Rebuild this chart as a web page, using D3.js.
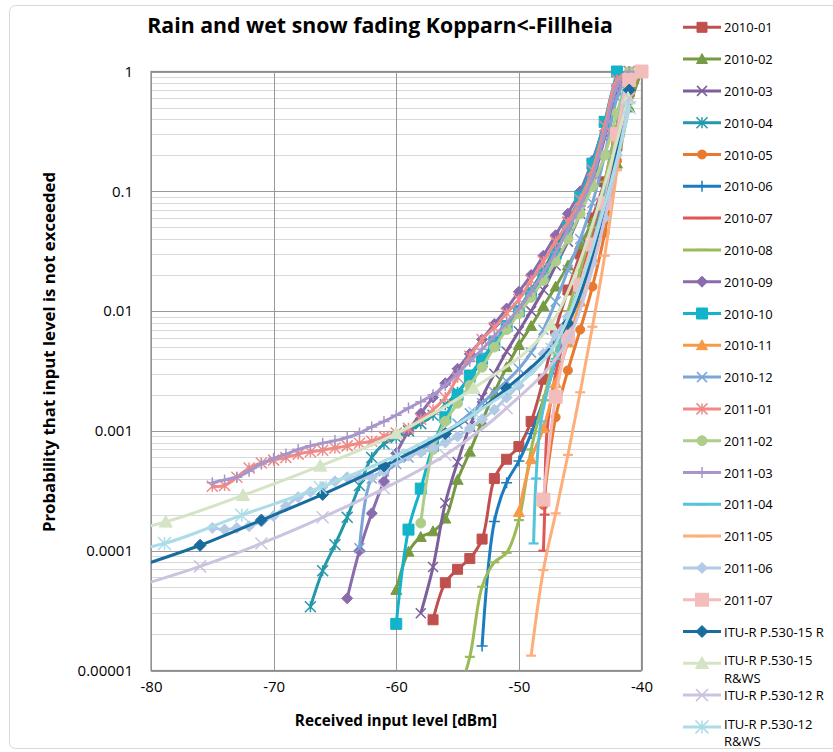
<!DOCTYPE html>
<html>
<head>
<meta charset="utf-8">
<title>Rain and wet snow fading Kopparn&lt;-Fillheia</title>
<script src="https://d3js.org/d3.v7.min.js"></script>
<style>
    body { margin: 0; padding: 0; background-color: #ffffff; }
    text { font-family: "Open Sans", sans-serif; fill: #000; }
    .title { font-weight: bold; font-size: 21.3px; }
    .xtitle { font-weight: bold; font-size: 15.3px; }
    .ytitle { font-weight: bold; font-size: 16.8px; }
    .tick text { font-size: 15px; font-family: "Open Sans", sans-serif; }
    .legend text { font-size: 13px; }
</style>
</head>
<body>
<div id="chart"></div>
<script>

// ---- data: [received level dBm, probability] ----
var s2010_01 = [[-57,2.65e-5],[-56,5.4e-5],[-55,7e-5],[-54,8.6e-5],[-53,1.25e-4],[-52,4.0e-4],[-51,5.8e-4],[-50,7.4e-4],[-49,1.2e-3],[-48,2.7e-3],[-47,7e-3],[-46,1.5e-2],[-45,3e-2],[-44,6e-2],[-43,0.12],[-42,0.24],[-41,0.68],[-40,1]];
var s2010_02 = [[-60,4.7e-5],[-59,9.8e-5],[-58,1.3e-4],[-57,1.45e-4],[-56,1.85e-4],[-55,3.9e-4],[-54,6.7e-4],[-53,1.2e-3],[-52,2.1e-3],[-51,3.4e-3],[-50,5.2e-3],[-49,7.5e-3],[-48,1.1e-2],[-47,1.6e-2],[-46,2.4e-2],[-45,3.6e-2],[-44,5.5e-2],[-43,9e-2],[-42,0.17],[-41,0.5],[-40,1]];
var s2010_03 = [[-58,3e-5],[-57,7.3e-5],[-56,2.5e-4],[-55,5.5e-4],[-54,1.1e-3],[-53,1.9e-3],[-52,3e-3],[-51,4.6e-3],[-50,6.8e-3],[-49,1e-2],[-48,1.5e-2],[-47,2.4e-2],[-46,3.8e-2],[-45,6.5e-2],[-44,0.12],[-43,0.28],[-42,0.7],[-41,1]];
var s2010_04 = [[-67,3.4e-5],[-66,6.8e-5],[-65,1.12e-4],[-64,1.9e-4],[-63,3.5e-4],[-62,6e-4],[-61,7.8e-4],[-60,8.8e-4],[-59,1.0e-3],[-58,1.15e-3],[-57,1.35e-3],[-56,1.65e-3],[-55,2.1e-3],[-54,2.8e-3],[-53,3.8e-3],[-52,5.2e-3],[-51,7.5e-3],[-50,1.05e-2],[-49,1.5e-2],[-48,2.2e-2],[-47,3.4e-2],[-46,5.5e-2],[-45,9e-2],[-44,0.17],[-43,0.38],[-42,0.85],[-41,1]];
var s2010_05 = [[-48,2.4e-4],[-47,1.3e-3],[-46,3.2e-3],[-45,7e-3],[-44,1.6e-2],[-43,4.5e-2],[-42,0.18],[-41,0.65],[-40,1]];
var s2010_06 = [[-53,1.6e-5],[-52,1.75e-4],[-51,3.7e-4],[-50,5.6e-4],[-49,9.5e-4],[-48,1.8e-3],[-47,3.8e-3],[-46,8e-3],[-45,1.7e-2],[-44,4e-2],[-43,0.11],[-42,0.35],[-41,0.85],[-40,1]];
var s2010_07 = [[-48,1e-4],[-47.9,2e-4],[-47.7,1e-3],[-47,3e-3],[-46,7.5e-3],[-45,1.8e-2],[-44,4.5e-2],[-43,0.12],[-42,0.35],[-41,0.85],[-40,1]];
var s2010_08 = [[-55,6e-6],[-54,1.3e-5],[-53,5e-5],[-52,8e-5],[-51,9.6e-5],[-50,1.8e-4],[-49,7e-4],[-48,1.8e-3],[-47,4.5e-3],[-46,1e-2],[-45,2.2e-2],[-44,5e-2],[-43,0.12],[-42,0.35],[-41,0.85],[-40,1]];
var s2010_09 = [[-64,4e-5],[-63,1e-4],[-62,2.05e-4],[-61,3.8e-4],[-60,6.5e-4],[-59,1e-3],[-58,1.4e-3],[-57,1.9e-3],[-56,2.5e-3],[-55,3.3e-3],[-54,4.4e-3],[-53,5.8e-3],[-52,7.8e-3],[-51,1.05e-2],[-50,1.45e-2],[-49,2e-2],[-48,2.9e-2],[-47,4.3e-2],[-46,6.5e-2],[-45,0.1],[-44,0.18],[-43,0.36],[-42,0.75],[-41,1]];
var s2010_10 = [[-60,2.45e-5],[-59,1.5e-4],[-58,3.3e-4],[-57,7.5e-4],[-56,1.3e-3],[-55,2e-3],[-54,2.9e-3],[-53,4e-3],[-52,5.5e-3],[-51,7.5e-3],[-50,1e-2],[-49,1.4e-2],[-48,2e-2],[-47,3e-2],[-46,5e-2],[-45,9e-2],[-44,0.17],[-43,0.38],[-42,1]];
var s2010_11 = [[-50,2.1e-4],[-49,5.8e-4],[-48,1.05e-3],[-47,2.5e-3],[-46,5.5e-3],[-45,1.2e-2],[-44,2.8e-2],[-43,7.5e-2],[-42,0.28],[-41,0.85],[-40,1]];
var s2010_12 = [[-63,1.05e-4],[-62,4e-4],[-61,4.6e-4],[-60,5.3e-4],[-59,6e-4],[-58,7e-4],[-57,8e-4],[-56,9.5e-4],[-55,1.15e-3],[-54,1.4e-3],[-53,1.7e-3],[-52,2.1e-3],[-51,2.6e-3],[-50,3.3e-3],[-49,4.5e-3],[-48,7e-3],[-47,1.2e-2],[-46,2.2e-2],[-45,4e-2],[-44,8e-2],[-43,0.2],[-42,0.6],[-41,1]];
var s2011_01 = [[-75,3.45e-4],[-74,3.5e-4],[-73,4.1e-4],[-72,4.9e-4],[-71,5.4e-4],[-70,5.7e-4],[-69,6e-4],[-68,6.4e-4],[-67,6.7e-4],[-66,6.9e-4],[-65,7.2e-4],[-64,7.5e-4],[-63,7.9e-4],[-62,8.2e-4],[-61,9e-4],[-60,9.6e-4],[-59,1.05e-3],[-58,1.25e-3],[-57,1.5e-3],[-56,1.9e-3],[-55,2.8e-3],[-54,4.2e-3],[-53,5.8e-3],[-52,7.3e-3],[-51,9.6e-3],[-50,1.25e-2],[-49,1.8e-2],[-48,2.6e-2],[-47,3.8e-2],[-46,5.5e-2],[-45,8.5e-2],[-44,0.15],[-43,0.35],[-42,0.85],[-41,1]];
var s2011_02 = [[-58,1.7e-4],[-57,7e-4],[-56,1.2e-3],[-55,1.7e-3],[-54,2.4e-3],[-53,3.4e-3],[-52,5e-3],[-51,7e-3],[-50,9.5e-3],[-49,1.3e-2],[-48,1.8e-2],[-47,2.6e-2],[-46,4e-2],[-45,6.5e-2],[-44,0.11],[-43,0.2],[-42,0.45],[-41,1]];
var s2011_03 = [[-75,3.7e-4],[-74,3.9e-4],[-73,4.1e-4],[-72,4.6e-4],[-71,5.3e-4],[-70,5.9e-4],[-69,6.4e-4],[-68,7e-4],[-67,7.5e-4],[-66,7.9e-4],[-65,8.3e-4],[-64,8.8e-4],[-63,9.6e-4],[-62,1.08e-3],[-61,1.2e-3],[-60,1.35e-3],[-59,1.55e-3],[-58,1.75e-3],[-57,2e-3],[-56,2.4e-3],[-55,3e-3],[-54,3.8e-3],[-53,4.8e-3],[-52,6.2e-3],[-51,8e-3],[-50,1.05e-2],[-49,1.45e-2],[-48,2.1e-2],[-47,3.1e-2],[-46,4.8e-2],[-45,7.5e-2],[-44,0.13],[-43,0.3],[-42,0.75],[-41,1]];
var s2011_04 = [[-48.8,1.15e-4],[-48.6,4e-4],[-48.2,1.2e-3],[-47,4e-3],[-46,8.5e-3],[-45,1.7e-2],[-44,3.6e-2],[-43,9e-2],[-42,0.3],[-41,0.9],[-40,1]];
var s2011_05 = [[-49,1.33e-5],[-48,6.9e-5],[-47,2.05e-4],[-46,6.3e-4],[-45,2.1e-3],[-44,7.4e-3],[-43,2.9e-2],[-42,0.15],[-41,0.78],[-40,1]];
var s2011_06 = [[-75,1.55e-4],[-74,1.5e-4],[-73,1.55e-4],[-72,1.6e-4],[-71,1.75e-4],[-70,1.95e-4],[-69,2.35e-4],[-68,2.8e-4],[-67,3.1e-4],[-66,3.4e-4],[-65,3.8e-4],[-64,4.1e-4],[-63,4.1e-4],[-62,4.1e-4],[-61,4.6e-4],[-60,5.6e-4],[-59,6.2e-4],[-58,6.6e-4],[-57,7.2e-4],[-56,8e-4],[-55,9e-4],[-54,1.05e-3],[-53,1.25e-3],[-52,1.5e-3],[-51,1.9e-3],[-50,2.4e-3],[-49,3.2e-3],[-48,4.4e-3],[-47,6.3e-3],[-46,9e-3],[-45,1.35e-2],[-44,2.5e-2],[-43,6e-2],[-42,0.2],[-41,0.7],[-40,1]];
var s2011_07 = [[-48,2.67e-4],[-47,1.93e-3],[-46,6.1e-3],[-45,1.66e-2],[-44,3.6e-2],[-43,8e-2],[-42,0.3],[-41,0.85],[-40,1]];
var itu15R   = [[-81,7.4e-5],[-76,1.11e-4],[-71,1.8e-4],[-66,2.95e-4],[-61,5.1e-4],[-56,9.5e-4],[-51,2.26e-3],[-46,7.9e-3],[-41,0.7]];
var itu15RWS = [[-85.1,1.25e-4],[-78.8,1.74e-4],[-72.5,2.9e-4],[-66.2,5.1e-4],[-60,9.5e-4],[-53.7,2.27e-3],[-47.4,7.7e-3],[-41.1,0.6]];
var itu12R   = [[-81,5.1e-5],[-76,7.4e-5],[-71,1.15e-4],[-66,1.9e-4],[-61,3.3e-4],[-56,6.3e-4],[-51,1.55e-3],[-46,5.8e-3],[-41,0.6]];
var itu12RWS = [[-85.2,8.7e-5],[-78.9,1.15e-4],[-72.6,1.98e-4],[-66.2,3.37e-4],[-59.9,6.3e-4],[-53.6,1.4e-3],[-47.3,4.8e-3],[-41,0.5]];

var seriesNames = ["2010-01","2010-02","2010-03","2010-04","2010-05","2010-06","2010-07","2010-08","2010-09","2010-10","2010-11","2010-12",
    "2011-01","2011-02","2011-03","2011-04","2011-05","2011-06","2011-07",
    "ITU-R P.530-15 R","ITU-R P.530-15 R&WS","ITU-R P.530-12 R","ITU-R P.530-12 R&WS"];
var seriesData = [s2010_01,s2010_02,s2010_03,s2010_04,s2010_05,s2010_06,s2010_07,s2010_08,s2010_09,s2010_10,s2010_11,s2010_12,
    s2011_01,s2011_02,s2011_03,s2011_04,s2011_05,s2011_06,s2011_07,itu15R,itu15RWS,itu12R,itu12RWS];

var yTickValues = [1e-5, 1e-4, 1e-3, 1e-2, 1e-1, 1];
var yTickLabels = ["0.00001","0.0001","0.001","0.01","0.1","1"];
var xTickValues = [-80, -70, -60, -50, -40];
var xTickLabels = ["-80","-70","-60","-50","-40"];

// ---- styles ----
var seriesColors = ["#C0504D","#779B43","#7D5F9B","#2398AA","#E8792F","#1B7DC0","#E05658","#9BBB59","#8A6BAE","#13B3C9","#F89A45","#7AA6D8",
    "#F08A87","#AECD8A","#A895C9","#55C3DA","#FDAE7A","#B3CAE6","#F2BDBB","#186D9E","#D5E4C4","#CCC3DE","#ACDCE8"];
var seriesMarkers = ["square","triangle","x","asterisk","circle","plus","dash","dash","diamond","square","triangle","x",
    "asterisk","circle","plus","dash","dash","diamond","square","diamond","triangle","x","asterisk"];
var markerSizes = [10,11,10,11,10,11,10,10,11,11,11,10, 11,11,11,10,10,11,13, 12,13,12,13];

var width = 833, height = 752;

var svg = d3.select("#chart").append("svg")
    .attr("width", width)
    .attr("height", height);

// chart frame
svg.append("rect")
    .attr("x", 9.5).attr("y", 5.5)
    .attr("width", 840).attr("height", 743)
    .attr("rx", 6)
    .attr("fill", "#fff")
    .attr("stroke", "#d9d9d9");

var plotL = 151, plotR = 641.5, plotT = 71.5, plotB = 670.5;

var x = d3.scaleLinear().domain([-80, -40]).range([plotL, plotR]);
var y = d3.scaleLog().domain([1e-5, 1]).range([plotB, plotT]);

// gridlines
var minorVals = y.ticks().filter(function(d){
    var l = Math.log10(d);
    return Math.abs(l - Math.round(l)) > 1e-6;
});
svg.append("g").selectAll("line").data(minorVals).join("line")
    .attr("x1", plotL).attr("x2", plotR)
    .attr("y1", function(d){ return Math.round(y(d)) + 0.5; })
    .attr("y2", function(d){ return Math.round(y(d)) + 0.5; })
    .attr("stroke", "#d9d9d9").attr("stroke-width", 1);
svg.append("g").selectAll("line").data(yTickValues).join("line")
    .attr("x1", plotL).attr("x2", plotR)
    .attr("y1", function(d){ return Math.round(y(d)) + 0.5; })
    .attr("y2", function(d){ return Math.round(y(d)) + 0.5; })
    .attr("stroke", "#999999").attr("stroke-width", 1);
svg.append("g").selectAll("line").data(xTickValues).join("line")
    .attr("x1", function(d){ return Math.round(x(d)) + 0.5; })
    .attr("x2", function(d){ return Math.round(x(d)) + 0.5; })
    .attr("y1", plotT).attr("y2", plotB)
    .attr("stroke", "#999999").attr("stroke-width", 1);

svg.append("rect")
    .attr("x", plotL).attr("y", plotT)
    .attr("width", plotR - plotL).attr("height", plotB - plotT)
    .attr("fill", "none").attr("stroke", "#8c8c8c").attr("stroke-width", 1.2);

// axes
var yAxis = svg.append("g")
    .attr("transform", "translate(" + plotL + ",0)")
    .call(d3.axisLeft(y).tickValues(yTickValues)
        .tickFormat(function(d, i){ return yTickLabels[i]; })
        .tickSize(0).tickPadding(18));
yAxis.select(".domain").remove();

var xAxis = svg.append("g")
    .attr("transform", "translate(0," + plotB + ")")
    .call(d3.axisBottom(x).tickValues(xTickValues)
        .tickFormat(function(d, i){ return xTickLabels[i]; })
        .tickSize(0).tickPadding(11));
xAxis.select(".domain").remove();
svg.selectAll(".tick text").attr("fill", "#000");

// titles
svg.append("text").attr("class", "title")
    .attr("x", 380).attr("y", 33)
    .attr("text-anchor", "middle")
    .text("Rain and wet snow fading Kopparn<-Fillheia");

svg.append("text").attr("class", "xtitle")
    .attr("x", 396).attr("y", 726)
    .attr("text-anchor", "middle")
    .text("Received input level [dBm]");

svg.append("text").attr("class", "ytitle")
    .attr("transform", "translate(55,352) rotate(-90)")
    .attr("text-anchor", "middle")
    .text("Probability that input level is not exceeded");

// markers
function markerPath(type, s) {
    var h = s / 2;
    if (type == "square") return "M" + (-h) + "," + (-h) + "h" + s + "v" + s + "h" + (-s) + "Z";
    if (type == "diamond") return "M0," + (-h) + "L" + h + ",0L0," + h + "L" + (-h) + ",0Z";
    if (type == "triangle") return "M0," + (-h) + "L" + h + "," + (h * 0.8) + "L" + (-h) + "," + (h * 0.8) + "Z";
    if (type == "circle") return d3.symbol(d3.symbolCircle, Math.PI * h * h * 0.8)();
    if (type == "x") return "M" + (-h) + "," + (-h) + "L" + h + "," + h + "M" + (-h) + "," + h + "L" + h + "," + (-h);
    if (type == "asterisk") return "M" + (-h) + "," + (-h) + "L" + h + "," + h + "M" + (-h) + "," + h + "L" + h + "," + (-h) + "M0," + (-h) + "V" + h;
    if (type == "plus") return "M" + (-h) + ",0H" + h + "M0," + (-h) + "V" + h;
    if (type == "dash") return "M" + (-h) + ",0H" + h;
}
function isFilled(type) {
    return type == "square" || type == "diamond" || type == "triangle" || type == "circle";
}
function styleMarker(sel, i) {
    var t = seriesMarkers[i], c = seriesColors[i];
    sel.attr("d", markerPath(t, markerSizes[i]))
        .attr("fill", isFilled(t) ? c : "none")
        .attr("stroke", c)
        .attr("stroke-width", isFilled(t) ? 1 : (t == "dash" ? 2.2 : 1.5));
}

svg.append("clipPath").attr("id", "plotclip")
    .append("rect")
    .attr("x", plotL).attr("y", plotT)
    .attr("width", plotR - plotL).attr("height", plotB - plotT);

var line = d3.line()
    .x(function(d){ return x(d[0]); })
    .y(function(d){ return y(d[1]); })
    .curve(d3.curveCatmullRom.alpha(0.5));

seriesData.forEach(function(data, i) {
    var g = svg.append("g").attr("class", "series");
    g.append("path")
        .attr("clip-path", "url(#plotclip)")
        .attr("d", line(data))
        .attr("fill", "none")
        .attr("stroke", seriesColors[i])
        .attr("stroke-width", 3)
        .attr("stroke-linejoin", "round");
    var inside = data.filter(function(d){ return d[0] >= -80 && d[0] <= -40 && d[1] >= 1e-5 && d[1] <= 1; });
    g.selectAll(".mk").data(inside).join("path")
        .attr("class", "mk")
        .attr("transform", function(d){ return "translate(" + x(d[0]) + "," + y(d[1]) + ")"; })
        .call(styleMarker, i);
});

// legend
var legend = svg.append("g").attr("class", "legend");
seriesNames.forEach(function(name, i) {
    var ly = 27.3 + i * 31.8;
    var lg = legend.append("g");
    lg.append("line")
        .attr("x1", 683).attr("x2", 721)
        .attr("y1", ly).attr("y2", ly)
        .attr("stroke", seriesColors[i]).attr("stroke-width", 3);
    lg.append("path")
        .attr("transform", "translate(702," + ly + ")")
        .call(styleMarker, i);
    var t = lg.append("text").attr("x", 724).attr("y", ly + 5).text(name);
    if (t.node().getComputedTextLength() > 104) {
        var words = name.split(" ");
        var last = words.pop();
        t.text(null);
        t.append("tspan").attr("x", 724).attr("y", ly + 2).text(words.join(" "));
        t.append("tspan").attr("x", 724).attr("y", ly + 19.5).text(last);
    }
});

</script>
</body>
</html>
